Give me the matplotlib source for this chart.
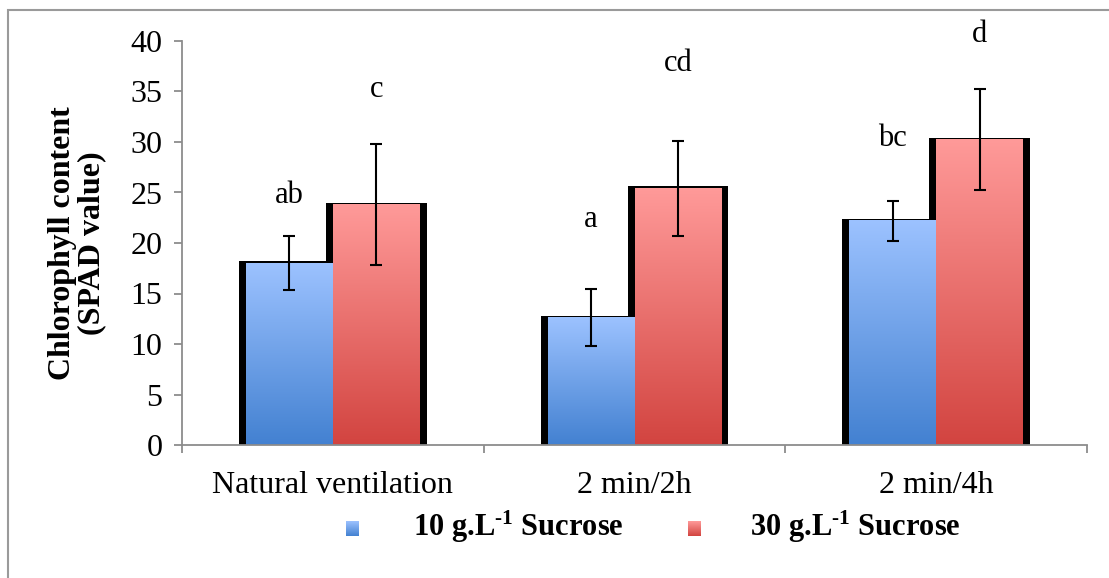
import numpy as np
import matplotlib.pyplot as plt
from matplotlib.colors import LinearSegmentedColormap
from matplotlib.patches import Rectangle

plt.rcParams['font.family'] = ['Liberation Serif', 'DejaVu Serif']
plt.rcParams['mathtext.fontset'] = 'custom'
plt.rcParams['mathtext.rm'] = 'Liberation Serif:bold'
plt.rcParams['mathtext.bf'] = 'Liberation Serif:bold'
plt.rcParams['mathtext.default'] = 'bf'

# data
categories = ["Natural ventilation", "2 min/2h", "2 min/4h"]
sucrose_10 = [18.0, 12.6, 22.2]
sucrose_10_err = [2.7, 2.8, 2.0]
sucrose_30 = [23.8, 25.4, 30.2]
sucrose_30_err = [6.0, 4.7, 5.0]
letters_10 = ["ab", "a", "bc"]
letters_30 = ["c", "cd", "d"]
letters_10_y = [24.7, 22.3, 30.3]
letters_30_y = [35.2, 37.8, 40.6]
series_labels = [r"10 g.L$^{\text{-1}}$ Sucrose", r"30 g.L$^{\text{-1}}$ Sucrose"]

blue_cmap = LinearSegmentedColormap.from_list("b", ["#4381d1", "#9cc2ff"])
red_cmap = LinearSegmentedColormap.from_list("r", ["#d24440", "#ff9a99"])
grad = np.linspace(0, 1, 256).reshape(-1, 1)

W, H = 1109, 578
fig = plt.figure(figsize=(W / 100, H / 100), dpi=100)
ax = fig.add_axes([182 / W, 1 - 445 / H, (1087 - 182) / W, (445 - 41) / H])

width = 0.288
shadow = 0.023
x = np.arange(len(categories))

series = [
    (x - width, sucrose_10, sucrose_10_err, blue_cmap, letters_10, letters_10_y),
    (x, sucrose_30, sucrose_30_err, red_cmap, letters_30, letters_30_y),
]

# black shadow behind each bar
for left, vals, _, _, _, _ in series:
    for l, v in zip(left, vals):
        ax.add_patch(Rectangle((l - shadow, -0.15), width + 2 * shadow, v + 0.35,
                               facecolor="black", edgecolor="none", zorder=1))

# gradient fills
for left, vals, _, cmap, _, _ in series:
    for l, v in zip(left, vals):
        ax.imshow(grad, cmap=cmap, origin="lower", aspect="auto",
                  extent=[l, l + width, 0, v], zorder=2, interpolation="bilinear")

for left, vals, errs, _, labels, label_y in series:
    ax.errorbar(left + width / 2, vals, yerr=errs, fmt="none", ecolor="black",
                elinewidth=1.5, capsize=4.5, capthick=1.5, zorder=3)
    for l, t, ty in zip(left, labels, label_y):
        ax.text(l + width / 2, ty, t, ha="center", va="center", fontsize=22,
                clip_on=False)

ax.set_xlim(-0.5, len(categories) - 0.5)
ax.set_ylim(0, 40)
ax.set_yticks(range(0, 41, 5))
ax.set_xticks(x)
ax.set_xticklabels(categories)
ax.set_xticks(np.arange(len(categories) + 1) - 0.5, minor=True)
ax.tick_params(axis="x", which="major", length=0, pad=19, labelsize=23)
ax.tick_params(axis="x", which="minor", length=6, width=1.3, color="#8c8c8c")
ax.tick_params(axis="y", length=6, width=1.3, color="#8c8c8c", labelsize=23, pad=8)

for side in ["top", "right"]:
    ax.spines[side].set_visible(False)
for side in ["left", "bottom"]:
    ax.spines[side].set_color("#8c8c8c")
    ax.spines[side].set_linewidth(1.3)

ax.set_ylabel("Chlorophyll content\n(SPAD value)", fontsize=23, fontweight="bold",
              va="center", linespacing=1.0)
ax.yaxis.set_label_coords(-(182 - 77) / (1087 - 182), 0.5)

# legend drawn by hand below the axis
for (sx, tx), cmap, label in zip([(346, 413), (688, 750)], [blue_cmap, red_cmap], series_labels):
    lax = fig.add_axes([sx / W, 1 - 536 / H, 13 / W, 15 / H])
    lax.imshow(grad, cmap=cmap, origin="lower", aspect="auto")
    lax.axis("off")
    fig.text(tx / W, 1 - 527 / H, label, ha="left", va="center", fontsize=22,
             fontweight="bold")

# outer frame
fig.patches.append(Rectangle((8 / W, -0.1), 1.2, 1.1 - 10 / H, transform=fig.transFigure,
                             facecolor="none", edgecolor="#9a9a9a", linewidth=1.5))

fig.savefig("out.png", dpi=100)
